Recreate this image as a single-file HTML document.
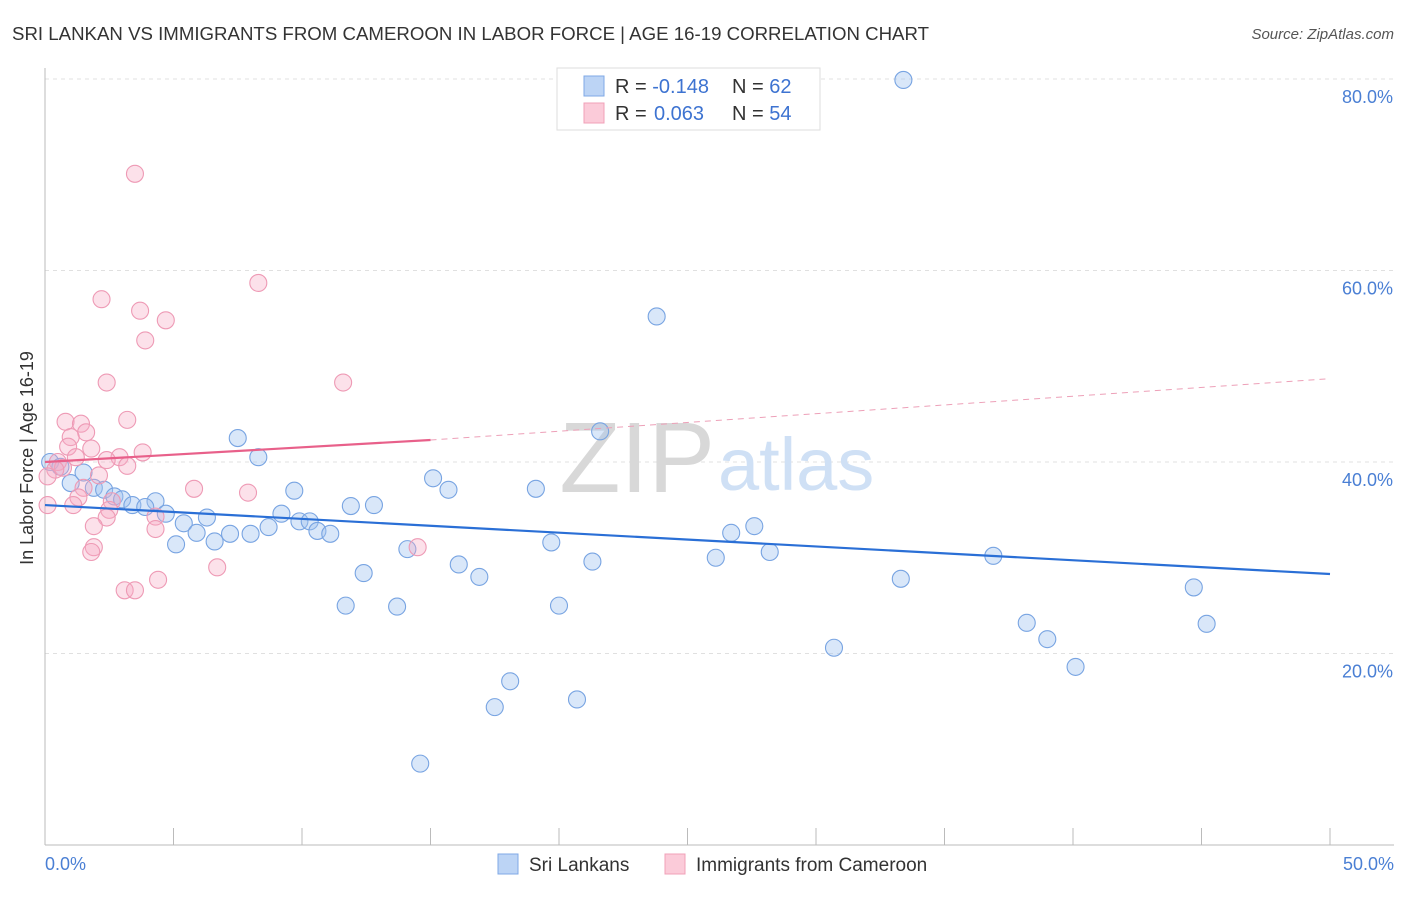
<!DOCTYPE html>
<html><head><meta charset="utf-8"><style>
body{margin:0;background:#fff;font-family:"Liberation Sans",sans-serif}
svg text{font-family:"Liberation Sans",sans-serif}
</style></head><body>
<svg width="1406" height="892">
<text x="12" y="40" font-size="18" fill="#333" textLength="917" lengthAdjust="spacingAndGlyphs">SRI LANKAN VS IMMIGRANTS FROM CAMEROON IN LABOR FORCE | AGE 16-19 CORRELATION CHART</text>
<text x="1394" y="39" font-size="15" fill="#555" font-style="italic" text-anchor="end">Source: ZipAtlas.com</text>
<g id="grid"></g>
<text x="715" y="492" font-size="100" fill="#d8d8d8" font-family="Liberation Serif" text-anchor="end">ZIP</text>
<text x="718" y="490" font-size="74" fill="#cfe0f5" text-anchor="start">atlas</text>
<g id="axes"></g>
<g id="pts"></g>
<g id="trend"></g>
<text x="33" y="458" font-size="18" fill="#333" text-anchor="middle" transform="rotate(-90 33 458)">In Labor Force | Age 16-19</text>
<text x="45" y="870" font-size="18" fill="#4a7fd4">0.0%</text>
<text x="1394" y="870" font-size="18" fill="#4a7fd4" text-anchor="end">50.0%</text>
<g>
<rect x="557" y="68" width="263" height="62" fill="#fff" stroke="#ddd"/>
<rect x="584" y="76" width="20" height="20" fill="#bcd4f5" stroke="#7fa8e6"/>
<rect x="584" y="103" width="20" height="20" fill="#fbcbd9" stroke="#f0a0b8"/>
<text x="615" y="93" font-size="20" fill="#333">R = <tspan fill="#3d73d1">-0.148</tspan></text>
<text x="732" y="93" font-size="20" fill="#333">N = <tspan fill="#3d73d1">62</tspan></text>
<text x="615" y="120" font-size="20" fill="#333">R = <tspan fill="#3d73d1" x="654">0.063</tspan></text>
<text x="732" y="120" font-size="20" fill="#333">N = <tspan fill="#3d73d1">54</tspan></text>
</g>
<g>
<rect x="498" y="854" width="20" height="20" fill="#bcd4f5" stroke="#7fa8e6"/>
<text x="529" y="871" font-size="19" fill="#333">Sri Lankans</text>
<rect x="665" y="854" width="20" height="20" fill="#fbcbd9" stroke="#f0a0b8"/>
<text x="696" y="871" font-size="19" fill="#333">Immigrants from Cameroon</text>
</g>
</svg>
<script>
const yTicks=[20,40,60,80];
const yTickLabels=["20.0%","40.0%","60.0%","80.0%"];
const xTicks=[0,5,10,15,20,25,30,35,40,45,50];
const blueX=[33.4,23.1,23.8,21.6,7.5,8.3,15.1,15.7,19.1,9.7,11.9,12.8,4.3,0.2,0.6,1.0,1.5,1.9,2.3,2.7,3.0,3.4,3.9,4.7,5.4,5.1,6.3,5.9,6.6,7.2,8.0,8.7,9.2,9.9,10.3,10.6,11.1,12.4,11.7,13.7,14.1,16.1,16.9,19.7,20.0,21.3,18.1,17.5,20.7,14.6,26.1,26.7,27.6,28.2,30.7,33.3,36.9,38.2,39.0,40.1,44.7,45.2];
const blueY=[79.9,80.1,55.2,43.2,42.5,40.5,38.3,37.1,37.2,37.0,35.4,35.5,35.9,40,39.5,37.8,38.9,37.3,37.1,36.4,36.1,35.5,35.3,34.6,33.6,31.4,34.2,32.6,31.7,32.5,32.5,33.2,34.6,33.8,33.8,32.8,32.5,28.4,25.0,24.9,30.9,29.3,28.0,31.6,25.0,29.6,17.1,14.4,15.2,8.5,30.0,32.6,33.3,30.6,20.6,27.8,30.2,23.2,21.5,18.6,26.9,23.1];
const pinkX=[3.5,8.3,2.2,3.7,4.7,3.9,2.4,11.6,3.2,0.8,1.4,1.6,1.0,0.9,1.8,3.8,2.9,1.2,2.4,3.2,0.5,0.7,0.4,2.1,0.1,5.8,7.9,1.5,1.3,2.6,1.1,0.1,2.5,2.4,4.3,1.9,4.3,1.9,1.8,14.5,6.7,4.4,3.1,3.5];
const pinkY=[70.1,58.7,57.0,55.8,54.8,52.7,48.3,48.3,44.4,44.2,44.0,43.1,42.6,41.6,41.4,41.0,40.5,40.5,40.2,39.6,40.0,39.4,39.2,38.6,38.5,37.2,36.8,37.3,36.3,35.9,35.5,35.5,35.0,34.2,34.3,33.3,33.0,31.1,30.6,31.1,29.0,27.7,26.6,26.6];
const blueTrend=[[0,35.5],[50,28.3]];
const pinkTrend=[[0,40.0],[15,42.3]];
const pinkTrendDash=[[15,42.3],[50,48.7]];
const NS="http://www.w3.org/2000/svg";
const X=v=>45+v*25.7, Y=v=>845-v*9.575;
function mk(t,a,p){const e=document.createElementNS(NS,t);for(const k in a)e.setAttribute(k,a[k]);p.appendChild(e);return e;}
const grid=document.getElementById('grid'),axes=document.getElementById('axes'),pts=document.getElementById('pts'),tr=document.getElementById('trend');
yTicks.forEach((t,i)=>{
 const l=mk('line',{x1:45,x2:1394,y1:Y(t),y2:Y(t),stroke:'#e0e0e0','stroke-dasharray':'4,4'},grid);
 
 
 const tx=mk('text',{x:1393,y:Y(t)+24,'font-size':18,fill:'#4a7fd4','text-anchor':'end'},grid);
 tx.textContent=yTickLabels[i];
 
 
});
mk('line',{x1:45,x2:45,y1:68,y2:845,stroke:'#bbb'},axes);
mk('line',{x1:45,x2:1394,y1:845,y2:845,stroke:'#bbb'},axes);
xTicks.forEach(t=>{const l=mk('line',{x1:X(t),x2:X(t),y1:828,y2:845,stroke:'#bbb'},axes);
 
 });
blueX.forEach((v,i)=>{const c=mk('circle',{cx:X(v),cy:Y(blueY[i]),r:8.5,fill:'rgba(160,195,240,0.4)',stroke:'#78a4e2','stroke-width':1.1},pts);
 
 });
pinkX.forEach((v,i)=>{const c=mk('circle',{cx:X(v),cy:Y(pinkY[i]),r:8.5,fill:'rgba(245,170,195,0.35)',stroke:'#ee9ab5','stroke-width':1.1},pts);
 
 });
function ln(d,st,dash,name){const l=mk('line',{x1:X(d[0][0]),y1:Y(d[0][1]),x2:X(d[1][0]),y2:Y(d[1][1]),stroke:st,'stroke-width':dash?1:2.2},tr);
 if(dash)l.setAttribute('stroke-dasharray','6,5');
 
 }
ln(blueTrend,'#2a6fd6',false,'sri-lankan-trend');
ln(pinkTrend,'#e8608a',false,'cameroon-trend');
ln(pinkTrendDash,'#eda0b8',true,'cameroon-trend-extension');
</script>
</body></html>
